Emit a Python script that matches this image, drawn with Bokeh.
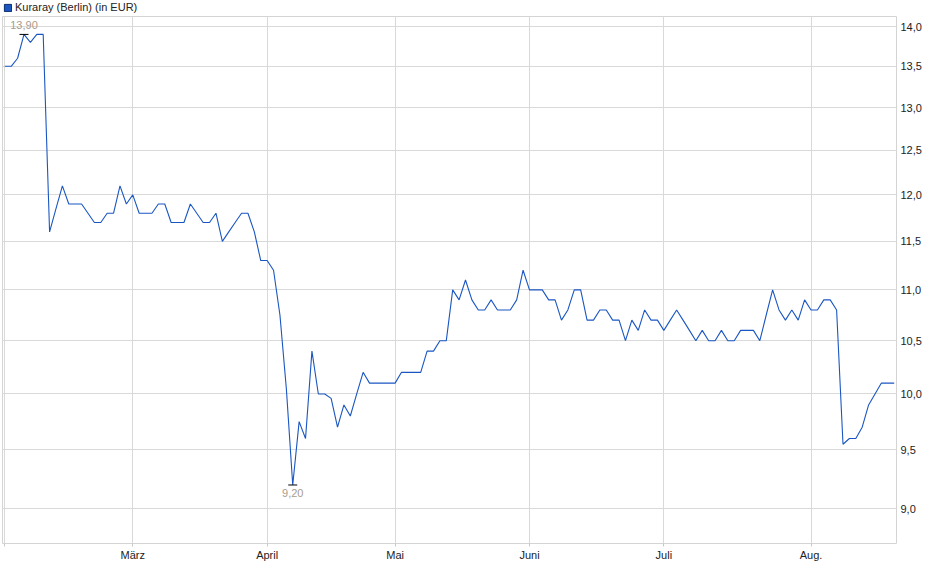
from bokeh.plotting import figure
from bokeh.layouts import column
from bokeh.models import Range1d, FixedTicker, Legend, LegendItem, ColumnDataSource
from bokeh.core.properties import value
from bokeh.embed import file_html
from bokeh.resources import INLINE

series_name = "Kuraray (Berlin) (in EUR)"

prices = [
    13.5, 13.5, 13.6, 13.9, 13.8, 13.9, 13.9, 11.6, 11.85, 12.1,
    11.9, 11.9, 11.9, 11.8, 11.7, 11.7, 11.8, 11.8, 12.1, 11.9,
    12.0, 11.8, 11.8, 11.8, 11.9, 11.9, 11.7, 11.7, 11.7, 11.9,
    11.8, 11.7, 11.7, 11.8, 11.5, 11.6, 11.7, 11.8, 11.8, 11.6,
    11.3, 11.3, 11.2, 10.75, 10.05, 9.2, 9.75, 9.6, 10.4, 10.0,
    10.0, 9.96, 9.7, 9.9, 9.8, 10.0, 10.2, 10.1, 10.1, 10.1,
    10.1, 10.1, 10.2, 10.2, 10.2, 10.2, 10.4, 10.4, 10.5, 10.5,
    11.0, 10.9, 11.1, 10.9, 10.8, 10.8, 10.9, 10.8, 10.8, 10.8,
    10.9, 11.2, 11.0, 11.0, 11.0, 10.9, 10.9, 10.7, 10.8, 11.0,
    11.0, 10.7, 10.7, 10.8, 10.8, 10.7, 10.7, 10.5, 10.7, 10.6,
    10.8, 10.7, 10.7, 10.6, 10.7, 10.8, 10.7, 10.6, 10.5, 10.6,
    10.5, 10.5, 10.6, 10.5, 10.5, 10.6, 10.6, 10.6, 10.5, 10.75,
    11.0, 10.8, 10.7, 10.8, 10.7, 10.9, 10.8, 10.8, 10.9, 10.9,
    10.8, 9.55, 9.6, 9.6, 9.7, 9.9, 10.0, 10.1, 10.1, 10.1,
]

month_ticks = [0, 20, 41, 61, 82, 103, 126]
month_labels = ["", "März", "April", "Mai", "Juni", "Juli", "Aug."]

y_ticks = [9.0, 9.5, 10.0, 10.5, 11.0, 11.5, 12.0, 12.5, 13.0, 13.5, 14.0]
y_tick_labels = ["9,0", "9,5", "10,0", "10,5", "11,0", "11,5", "12,0", "12,5", "13,0", "13,5", "14,0"]

LINE = "#1a56c2"
GRID = "#d9d9d9"
FONT = "Liberation Sans"

W = 924
TOP_H = 16
H = 547
BL, BR, BB = 2, 26, 18

x_idx = list(range(len(prices)))
src = ColumnDataSource(data=dict(x=x_idx, y=prices))
x_rng = Range1d(-0.36, len(prices) - 1 + 0.36)
y_rng = Range1d(8.72, 14.13)

# ---- header strip with legend ----
head = figure(width=W, height=TOP_H, output_backend="svg", toolbar_location=None,
              x_axis_location=None, y_axis_location=None, y_axis_type="log",
              x_range=x_rng, y_range=y_rng,
              min_border_left=0, min_border_right=0, min_border_top=0, min_border_bottom=0)
head.title.visible = False
head.outline_line_color = None
head.xgrid.visible = False
head.ygrid.visible = False
imax = prices.index(max(prices))
sq = head.quad(left=[imax], right=[imax], top=[prices[imax]], bottom=[prices[imax]],
               fill_color=LINE, line_color="#0d2d6b", line_width=1)
legend = Legend(items=[LegendItem(label=series_name, renderers=[sq])],
                location=(1, 3), orientation="horizontal",
                glyph_width=9, glyph_height=9, label_standoff=3, label_height=9,
                padding=0, margin=0, spacing=0, border_line_color=None,
                background_fill_alpha=0, label_text_font=FONT,
                label_text_font_size="11px", label_text_color="#222222")
head.add_layout(legend, "center")

# ---- main chart ----
p = figure(width=W, height=H, output_backend="svg", toolbar_location=None,
           y_axis_type="log", y_axis_location="right",
           x_range=x_rng, y_range=y_rng,
           min_border_left=BL, min_border_right=BR, min_border_top=0, min_border_bottom=BB)
p.title.visible = False
p.background_fill_color = "white"
p.outline_line_color = "#d4d4d4"
p.outline_line_width = 1

p.xaxis.ticker = FixedTicker(ticks=month_ticks)
p.xaxis.major_label_overrides = {t: l for t, l in zip(month_ticks, month_labels)}
p.xaxis.axis_line_color = None
p.xaxis.major_tick_line_color = "#c8c8c8"
p.xaxis.major_tick_out = 3
p.xaxis.major_tick_in = 0
p.xaxis.minor_tick_line_color = None
p.xaxis.major_label_standoff = 2
p.xaxis.major_label_text_font = FONT
p.xaxis.major_label_text_font_size = "11px"
p.xaxis.major_label_text_color = "#222222"

p.yaxis.ticker = FixedTicker(ticks=y_ticks)
p.yaxis.major_label_overrides = {t: l for t, l in zip(y_ticks, y_tick_labels)}
p.yaxis.axis_line_color = None
p.yaxis.major_tick_line_color = None
p.yaxis.minor_tick_line_color = None
p.yaxis.major_tick_out = 0
p.yaxis.major_tick_in = 0
p.yaxis.major_label_standoff = 4
p.yaxis.major_label_text_font = FONT
p.yaxis.major_label_text_font_size = "11px"
p.yaxis.major_label_text_color = "#222222"

p.xgrid.grid_line_color = GRID
p.ygrid.grid_line_color = GRID
p.xgrid.minor_grid_line_color = None
p.ygrid.minor_grid_line_color = None

p.line("x", "y", source=src, line_color=LINE, line_width=1.1)

imin = prices.index(min(prices))
p.scatter([imax, imin], [prices[imax], prices[imin]], marker="dash", size=9,
          line_color="black", line_width=1)
fmt = lambda v: f"{v:.2f}".replace(".", ",")
p.text(x=[imax], y=[prices[imax]], text=[fmt(prices[imax])], text_align="center",
       text_baseline="bottom", y_offset=-5, text_font=value(FONT), text_font_size="11px",
       text_color="#a89c8c")
p.text(x=[imin], y=[prices[imin]], text=[fmt(prices[imin])], text_align="center",
       text_baseline="top", y_offset=4, text_font=value(FONT), text_font_size="11px",
       text_color="#a89c8c")

layout = column(head, p, spacing=0)
open("out.html", "w").write(file_html(layout, INLINE))
